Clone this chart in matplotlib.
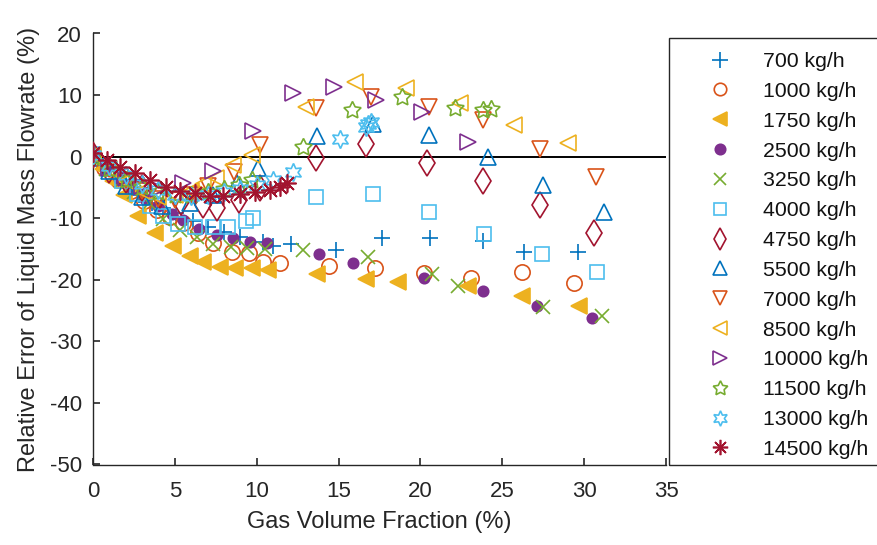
import matplotlib
matplotlib.use("Agg")
import matplotlib.pyplot as plt
from matplotlib.patches import Rectangle

plt.rcParams['font.family'] = ['Liberation Sans', 'DejaVu Sans']
plt.rcParams['axes.unicode_minus'] = False

labels = ['700 kg/h', '1000 kg/h', '1750 kg/h', '2500 kg/h', '3250 kg/h', '4000 kg/h',
          '4750 kg/h', '5500 kg/h', '7000 kg/h', '8500 kg/h', '10000 kg/h', '11500 kg/h',
          '13000 kg/h', '14500 kg/h']

x700 = [0, 0.6, 1.3, 2.0, 2.8, 3.6, 4.3, 5.1, 6.1, 7.0, 8.0, 9.0, 10.4, 11.0, 12.1, 14.85, 17.65, 20.6, 23.8, 26.3, 29.6]
y700 = [0.3, -1.5, -3.2, -4.6, -6.2, -7.5, -8.4, -9.2, -10.4, -11.4, -12.3, -13.0, -13.9, -14.5, -14.2, -15.2, -13.2, -13.2, -13.7, -15.5, -15.5]

x1000 = [0, 0.7, 1.5, 2.3, 3.1, 3.9, 4.7, 5.5, 6.4, 7.3, 8.5, 9.5, 10.4, 11.4, 14.4, 17.2, 20.2, 23.1, 26.2, 29.4]
y1000 = [0.2, -1.8, -3.8, -5.5, -7.2, -8.6, -9.8, -10.8, -12.4, -14.0, -15.5, -15.7, -17.1, -17.3, -17.8, -18.1, -18.9, -19.7, -18.7, -20.5]

x1750 = [0, 0.6, 1.2, 1.9, 2.75, 3.8, 4.9, 5.9, 6.7, 7.75, 8.7, 9.7, 10.7, 13.7, 16.7, 18.6, 22.9, 26.2, 29.7]
y1750 = [0.0, -2.0, -4.0, -6.3, -9.6, -12.4, -14.5, -16.1, -17.1, -17.9, -18.1, -18.1, -18.4, -19.1, -19.9, -20.4, -21.0, -22.6, -24.3]

x2500 = [0, 0.8, 1.6, 2.4, 3.2, 4.0, 4.8, 5.5, 6.5, 7.6, 8.55, 9.6, 10.6, 13.8, 15.9, 20.2, 23.8, 27.1, 30.5]
y2500 = [0.4, -1.8, -3.6, -5.2, -6.8, -8.0, -9.3, -10.3, -11.8, -12.7, -13.2, -13.9, -14.0, -15.8, -17.3, -19.7, -21.8, -24.3, -26.2]

x3250 = [0, 0.8, 1.7, 2.5, 3.4, 4.3, 5.3, 6.35, 7.3, 8.4, 9.4, 10.5, 12.8, 16.8, 20.7, 22.3, 27.5, 31.1]
y3250 = [0.2, -2.0, -4.0, -5.8, -7.6, -10.1, -11.9, -13.1, -14.2, -14.7, -14.8, -15.0, -15.2, -16.3, -19.1, -21.0, -24.4, -25.9]

x4000 = [0, 0.9, 1.8, 2.7, 3.5, 4.3, 5.2, 6.2, 7.3, 8.25, 9.35, 9.8, 13.6, 17.1, 20.5, 23.9, 27.4, 30.8]
y4000 = [0.5, -2.0, -4.0, -6.0, -8.0, -9.6, -10.9, -11.4, -11.4, -11.4, -10.5, -10.0, -6.6, -6.1, -9.0, -12.6, -15.8, -18.7]

x4750 = [0, 1.0, 2.0, 3.0, 4.1, 5.4, 6.7, 7.6, 8.9, 10.2, 13.6, 16.7, 20.4, 23.8, 27.3, 30.6]
y4750 = [0.3, -2.2, -3.8, -5.1, -6.2, -7.4, -7.9, -8.3, -7.0, -5.1, -0.2, 2.0, -1.0, -4.0, -7.9, -12.4]

x5500 = [0, 1.0, 2.0, 3.0, 4.2, 5.9, 7.3, 8.8, 10.1, 13.7, 17.1, 20.5, 24.1, 27.5, 31.2]
y5500 = [0.5, -2.3, -4.8, -6.5, -8.0, -7.6, -6.2, -4.2, -1.9, 3.3, 5.3, 3.5, -0.1, -4.6, -9.0]

x7000 = [0, 1.0, 2.0, 3.0, 4.0, 5.0, 6.0, 7.0, 8.6, 10.2, 13.6, 17.0, 20.5, 23.8, 27.3, 30.7]
y7000 = [0.0, -2.0, -3.8, -5.5, -6.8, -7.0, -6.2, -4.8, -2.5, 1.9, 7.9, 9.7, 8.1, 6.0, 1.2, -3.3]

x8500 = [0, 1.0, 2.0, 3.0, 4.0, 5.0, 6.0, 6.7, 7.5, 8.55, 9.7, 13.0, 16.0, 19.1, 22.4, 25.7, 29.0]
y8500 = [0.3, -2.0, -4.0, -5.5, -6.5, -6.3, -5.5, -4.5, -3.5, -1.4, 0.3, 8.1, 12.1, 11.1, 8.7, 5.1, 2.2]

x10000 = [0, 1.0, 2.0, 3.0, 4.0, 5.5, 7.3, 9.8, 12.2, 14.7, 17.3, 20.1, 22.9]
y10000 = [0.5, -1.8, -3.5, -4.8, -5.2, -4.3, -2.4, 4.2, 10.3, 11.3, 9.2, 7.2, 2.4]

x11500 = [0, 1.0, 2.0, 3.0, 4.0, 5.0, 6.0, 7.0, 8.0, 8.9, 9.7, 12.8, 15.8, 18.9, 22.1, 23.8, 24.3]
y11500 = [0.0, -2.0, -3.8, -5.0, -5.8, -6.3, -6.3, -5.8, -5.2, -4.6, -3.8, 1.6, 7.6, 9.7, 7.9, 7.6, 7.7]

x13000 = [0, 1.0, 2.0, 3.0, 4.0, 5.0, 6.0, 7.0, 8.0, 9.0, 10.0, 11.0, 12.2, 15.1, 16.7, 16.8, 17.0]
y13000 = [0.2, -1.5, -3.0, -4.4, -5.4, -6.2, -6.4, -6.2, -5.8, -5.3, -4.6, -3.8, -2.5, 2.9, 4.8, 5.3, 5.6]

x14500 = [0, 0.85, 1.65, 2.55, 3.5, 4.45, 5.3, 6.2, 7.15, 7.95, 9.0, 9.9, 10.8, 11.4, 11.85]
y14500 = [0.6, -0.55, -1.7, -2.7, -3.8, -4.9, -5.6, -5.9, -6.4, -6.4, -6.1, -5.7, -5.4, -4.9, -4.3]

xs = [x700, x1000, x1750, x2500, x3250, x4000, x4750, x5500, x7000, x8500, x10000, x11500, x13000, x14500]
ys = [y700, y1000, y1750, y2500, y3250, y4000, y4750, y5500, y7000, y8500, y10000, y11500, y13000, y14500]

mc = ['#0072BD', '#D95319', '#EDB120', '#7E2F8E', '#77AC30', '#4DBEEE', '#A2142F']
colors = mc + mc
markers = ['+', 'o', '<', 'o', 'x', 's', 'd', '^', 'v', '<', '>', (5, 1, 0), (6, 1, 0), (8, 2, 0)]
filled = [False, False, True, True, False, False, False, False, False, False, False, False, False, False]
sizes = [12, 11, 11, 7.5, 10, 9.5, 13.5, 12, 12, 12, 12, 13, 13, 13]
leg_sizes = [11, 9, 10, 7.5, 9, 8, 11, 10, 10, 10, 10, 11, 11, 11]

fig = plt.figure(figsize=(8.77, 5.45), dpi=100)
W, H = 877, 545
ax = fig.add_axes([93 / W, 1 - 464.5 / H, (666 - 93) / W, (464.5 - 33.5) / H])

ax.plot([0, 35], [0, 0], color='black', lw=1.4, zorder=1)

handles = []
for x, y, c, m, f, s, lab in zip(xs, ys, colors, markers, filled, sizes, labels):
    h, = ax.plot(x, y, linestyle='none', marker=m, markersize=s,
                 markerfacecolor=c if f else 'none', markeredgecolor=c,
                 markeredgewidth=1.2, label=lab, zorder=3)
    handles.append(h)

ax.set_xlim(0, 35)
ax.set_ylim(-50, 20)
ax.set_xticks(range(0, 36, 5))
ax.set_yticks(range(-50, 21, 10))
for sp in ['top', 'right']:
    ax.spines[sp].set_visible(False)
for sp in ['left', 'bottom']:
    ax.spines[sp].set_color('#262626')
    ax.spines[sp].set_linewidth(1.0)
ax.tick_params(direction='in', length=5, width=1.2, colors='#262626', labelsize=16,
               labelcolor='#262626')
ax.tick_params(axis='x', pad=12)
ax.tick_params(axis='y', pad=8)
ax.set_xlabel('Gas Volume Fraction (%)', fontsize=17, color='#262626')
ax.set_ylabel('Relative Error of Liquid Mass Flowrate (%)', fontsize=17, color='#262626')
ax.xaxis.label.set_verticalalignment('center')
ax.yaxis.label.set_verticalalignment('center')
ax.xaxis.set_label_coords(0.5, -(522 - 464.5) / 431)
ax.yaxis.set_label_coords((29 - 93) / 573, 0.5)

# legend frame
fig.patches.append(Rectangle((669 / W, 1 - 465 / H), (900 - 669) / W, (465 - 38) / H,
                             transform=fig.transFigure, fill=False, edgecolor='#262626',
                             linewidth=1.0, zorder=5))
leg = fig.legend(handles=handles, loc='upper left', bbox_to_anchor=(705 / W, 1 - 52 / H),
                 bbox_transform=fig.transFigure, frameon=False, fontsize=15.3,
                 labelspacing=0.51, handlelength=1.4, handletextpad=1.31, borderpad=0,
                 borderaxespad=0, numpoints=1)
for t in leg.get_texts():
    t.set_color('#111111')
for lh, s in zip(leg.legend_handles, leg_sizes):
    lh.set_markersize(s)

fig.savefig('out.png', dpi=100)
